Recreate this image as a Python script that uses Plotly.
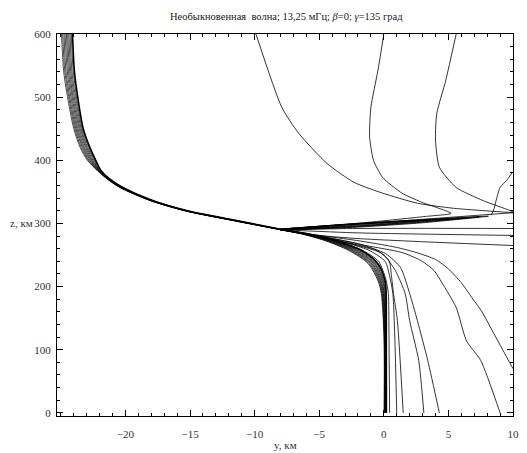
import plotly.graph_objects as go

# ---------------- data ----------------
# main bundle: shared heights z (km) and horizontal offsets y (km) for each ray
bundle_z = [0, 120, 189, 209, 236, 257, 273, 283, 290, 305, 320, 337, 357, 370, 384, 400, 420, 450, 490, 540, 600]
bundle_ray0 = [0.02, 0.01, -0.20, -0.45, -1.20, -2.70, -4.60, -6.30, -8.00, -11.80, -15.40, -18.20, -20.45, -21.40, -22.20, -22.95, -23.50, -24.00, -24.40, -24.78, -24.95]
bundle_ray1 = [0.04, 0.03, -0.16, -0.39, -1.12, -2.59, -4.51, -6.24, -7.98, -11.77, -15.38, -18.18, -20.42, -21.38, -22.17, -22.88, -23.42, -23.92, -24.31, -24.69, -24.86]
bundle_ray2 = [0.06, 0.05, -0.11, -0.33, -1.03, -2.48, -4.42, -6.19, -7.96, -11.73, -15.36, -18.16, -20.39, -21.36, -22.13, -22.81, -23.33, -23.84, -24.23, -24.60, -24.76]
bundle_ray3 = [0.08, 0.07, -0.07, -0.27, -0.95, -2.37, -4.33, -6.13, -7.93, -11.70, -15.33, -18.13, -20.37, -21.33, -22.10, -22.73, -23.25, -23.76, -24.14, -24.50, -24.67]
bundle_ray4 = [0.10, 0.09, -0.03, -0.21, -0.87, -2.26, -4.24, -6.08, -7.91, -11.67, -15.31, -18.11, -20.34, -21.31, -22.07, -22.66, -23.17, -23.68, -24.05, -24.41, -24.57]
bundle_ray5 = [0.12, 0.11, 0.01, -0.14, -0.78, -2.14, -4.16, -6.02, -7.89, -11.63, -15.29, -18.09, -20.31, -21.29, -22.03, -22.59, -23.08, -23.59, -23.97, -24.32, -24.48]
bundle_ray6 = [0.14, 0.13, 0.05, -0.08, -0.70, -2.03, -4.07, -5.97, -7.87, -11.60, -15.27, -18.07, -20.28, -21.27, -22.00, -22.52, -23.00, -23.51, -23.88, -24.23, -24.39]
bundle_ray7 = [0.16, 0.15, 0.10, -0.02, -0.62, -1.92, -3.98, -5.91, -7.84, -11.57, -15.24, -18.04, -20.26, -21.24, -21.97, -22.44, -22.92, -23.43, -23.79, -24.14, -24.29]
bundle_ray8 = [0.18, 0.17, 0.14, 0.04, -0.53, -1.81, -3.89, -5.86, -7.82, -11.53, -15.22, -18.02, -20.23, -21.22, -21.93, -22.37, -22.83, -23.35, -23.71, -24.04, -24.20]
bundle_ray9 = [0.20, 0.19, 0.18, 0.10, -0.45, -1.70, -3.80, -5.80, -7.80, -11.50, -15.20, -18.00, -20.20, -21.20, -21.90, -22.30, -22.75, -23.27, -23.62, -23.95, -24.10]

# rays from the ground to the focus (y, z)
near_a_y = [0.45, 0.40, 0.35, 0.15, -0.40, -1.70, -3.75, -5.80, -8.0]
near_a_z = [0, 120, 189, 212, 240, 258, 273, 283, 290]
near_b_y = [1.0, 0.85, 0.70, 0.50, 0.10, -1.20, -3.60, -5.75, -8.0]
near_b_z = [0, 120, 189, 212, 240, 258, 273, 283, 290]
near_c_y = [1.5, 1.05, 0.75, 0.60, 0.40, -0.60, -3.40, -5.70, -8.0]
near_c_z = [0, 146, 189, 215, 241, 258, 272, 283, 290]
mid_a_y = [3.1, 2.7, 2.0, 1.65, 0.9, -0.1, -2.0, -5.0, -8.0]
mid_a_z = [0, 83, 146, 189, 225, 252, 265, 279, 290]
mid_b_y = [4.3, 3.4, 2.6, 2.0, 1.3, 0.15, -2.0, -5.0, -8.0]
mid_b_z = [0, 83, 146, 189, 230, 252, 268, 280, 290]
far_a_y = [9.0, 7.5, 6.4, 5.6, 4.5, 3.9, 2.9, 1.4, -1.4, -4.5, -8.0]
far_a_z = [0, 83, 114, 167, 206, 225, 241, 254, 265, 278, 290]
far_b_y = [10.0, 9.2, 8.4, 7.6, 6.9, 6.0, 5.0, 4.0, 2.5, 1.0, -2.1, -5.0, -8.0]
far_b_z = [70, 100, 130, 160, 180, 206, 228, 243, 254, 262, 273, 281, 290]

# rays from the focus to the right edge
edge_a_y = [-8.0, -2.0, 10.0]
edge_a_z = [290, 292, 292]
edge_b_y = [-8.0, -2.0, 10.0]
edge_b_z = [290, 285, 281]
edge_c_y = [-8.0, -5.0, -2.0, 3.0, 10.0]
edge_c_z = [290, 281, 276, 271, 265]
edge_d_y = [-8.0, -4.4, 2.0, 10.0]
edge_d_z = [291, 296, 305, 317]

# loops of the wedge (out along the lower edge, back along the upper edge)
wedge_a_y = [-8.0, -2.1, 3.0, 8.1, 3.0, -2.1, -8.0]
wedge_a_z = [289, 294, 301, 311.5, 306, 300, 291]
wedge_b_y = [-8.0, -2.1, 3.0, 7.4, 3.0, -2.1, -8.0]
wedge_b_z = [289.5, 295, 302, 310.5, 305, 299.5, 291]
wedge_c_y = [-8.0, -2.1, 2.5, 6.5, 2.5, -2.1, -8.0]
wedge_c_z = [289.5, 295.5, 302, 309, 304.5, 299, 290.5]
wedge_d_y = [-8.0, -2.1, 2.0, 5.0, 2.0, -2.1, -8.0]
wedge_d_z = [290, 296, 302, 307, 304, 298.5, 290.5]
wedge_e_y = [-8.0, -3.0, 3.5, -3.0, -8.0]
wedge_e_z = [290, 296, 305, 298, 290.5]

# rays from the top
top_a_y = [-9.9, -7.9, -6.6, -4.4, -2.3, -0.1, 2.6, 5.4, 10.0]
top_a_z = [600, 484, 443, 395, 365, 348, 332, 324, 317]
top_b_y = [0.0, -0.45, -1.0, -1.1, -0.8, -0.1, 1.4, 3.0, 5.2, 3.2, -2.1, -8.0]
top_b_z = [600, 543, 484, 437, 400, 373, 348, 333, 316, 311, 300, 291]
top_c_y = [5.6, 4.8, 4.1, 4.0, 4.3, 5.6, 7.7, 9.7, 10.0]
top_c_z = [600, 527, 474, 432, 389, 357, 336, 321, 318]
top_d_y = [10.0, 9.5, 9.0, 8.7, 8.5, 8.3]
top_d_z = [382, 368, 357, 337, 321, 313]

x_ticks = [-20, -15, -10, -5, 0, 5, 10]
x_labels = ["\u221220", "\u221215", "\u221210", "\u22125", "0", "5", "10"]
z_ticks = [0, 100, 200, 300, 400, 500, 600]

title_text = "Необыкновенная\u00a0\u00a0волна; 13,25 мГц; <i>β</i>=0; <i>γ</i>=135 град"

# ---------------- figure ----------------
FONT = "Liberation Serif, Times New Roman, serif"
fig = go.Figure()

bundle = [bundle_ray0, bundle_ray1, bundle_ray2, bundle_ray3, bundle_ray4,
          bundle_ray5, bundle_ray6, bundle_ray7, bundle_ray8, bundle_ray9]
for i, ray in enumerate(bundle):
    fig.add_trace(go.Scatter(x=ray, y=bundle_z, mode="lines",
                             line=dict(color="black", width=1.6 if i == 9 else 0.7, shape="spline", smoothing=0.8),
                             hoverinfo="skip"))

others = [
    (near_a_y, near_a_z), (near_b_y, near_b_z), (near_c_y, near_c_z),
    (mid_a_y, mid_a_z), (mid_b_y, mid_b_z), (far_a_y, far_a_z), (far_b_y, far_b_z),
    (edge_a_y, edge_a_z), (edge_b_y, edge_b_z), (edge_c_y, edge_c_z), (edge_d_y, edge_d_z),
    (wedge_a_y, wedge_a_z), (wedge_b_y, wedge_b_z), (wedge_c_y, wedge_c_z),
    (wedge_d_y, wedge_d_z), (wedge_e_y, wedge_e_z),
    (top_a_y, top_a_z), (top_b_y, top_b_z), (top_c_y, top_c_z), (top_d_y, top_d_z),
]
for ys, zs in others:
    fig.add_trace(go.Scatter(x=ys, y=zs, mode="lines",
                             line=dict(color="black", width=0.8, shape="spline", smoothing=0.6),
                             hoverinfo="skip"))

axis_common = dict(showgrid=False, zeroline=False, showline=True, linecolor="black", linewidth=1,
                   mirror="ticks", ticks="inside", ticklen=6, tickcolor="black", tickwidth=1,
                   tickfont=dict(family=FONT, size=11, color="#333333"))
fig.update_xaxes(range=[-25.3, 10], tickvals=x_ticks, ticktext=x_labels, ticklabelstandoff=8,
                 minor=dict(dtick=1, ticks="inside", ticklen=3, tickcolor="black", tickwidth=1),
                 **axis_common)
fig.update_yaxes(range=[-5, 600], tickvals=z_ticks, ticklabelstandoff=3,
                 minor=dict(dtick=20, ticks="inside", ticklen=3, tickcolor="black", tickwidth=1),
                 **axis_common)

fig.update_layout(
    width=527, height=453,
    margin=dict(l=57, r=8, t=34, b=37),
    plot_bgcolor="white", paper_bgcolor="white",
    showlegend=False,
    annotations=[
        dict(text=title_text, x=0.504, y=1.045, xref="paper", yref="paper", showarrow=False,
             xanchor="center", yanchor="middle", font=dict(family=FONT, size=10.5, color="#222222")),
        dict(text="y, км", x=0.5, y=-0.076, xref="paper", yref="paper", showarrow=False,
             xanchor="center", yanchor="middle", font=dict(family=FONT, size=11, color="#333333")),
        dict(text="z, км", x=-0.078, y=0.505, xref="paper", yref="paper", showarrow=False,
             xanchor="center", yanchor="middle", font=dict(family=FONT, size=11, color="#333333")),
    ],
)

fig.write_html("out.html")
